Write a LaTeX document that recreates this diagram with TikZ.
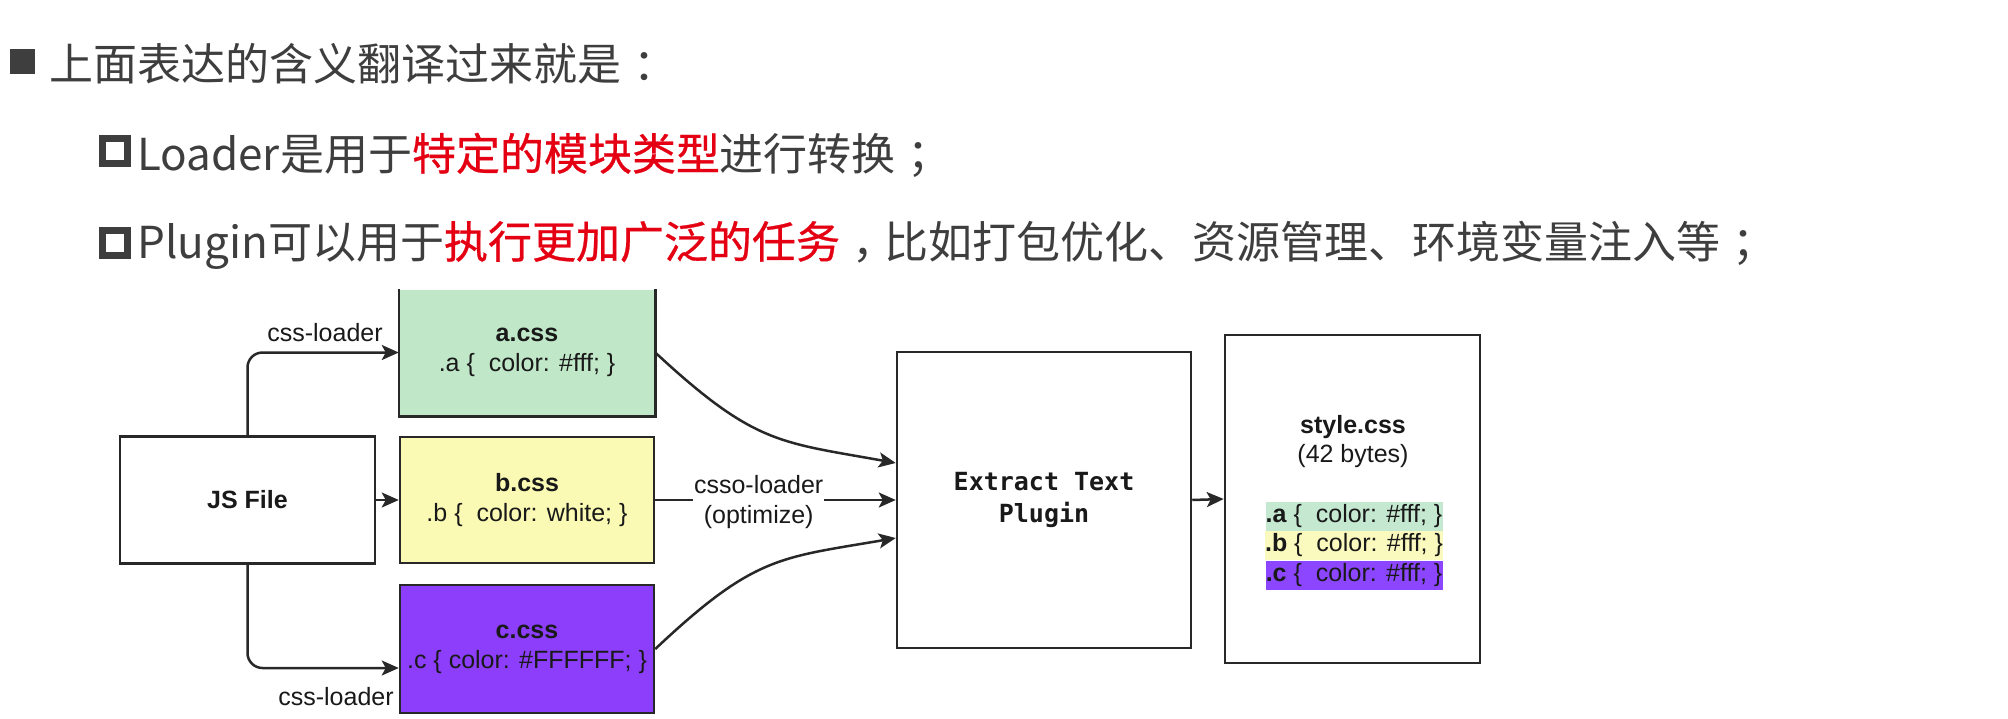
\documentclass[tikz,border=0pt]{standalone}
\usepackage{fontspec}
\setmainfont{Liberation Sans}
\newfontfamily\cjk{Noto Sans CJK SC}
\newfontfamily\cjkred[FakeBold=0.6]{Noto Sans CJK SC}
\newfontfamily\monof{DejaVu Sans Mono}
\usetikzlibrary{arrows.meta}
\definecolor{titlegray}{RGB}{62,62,62}
\definecolor{hired}{RGB}{228,0,18}
\definecolor{boxc}{RGB}{40,40,40}
\definecolor{txt}{RGB}{25,25,25}
\definecolor{cgreen}{RGB}{192,232,200}
\definecolor{cyellow}{RGB}{250,250,180}
\definecolor{cpurple}{RGB}{140,62,250}
\definecolor{sgreen}{RGB}{196,232,208}
\definecolor{syellow}{RGB}{250,250,190}
\definecolor{spurple}{RGB}{140,70,255}
\tikzset{
  title/.style={anchor=west, inner sep=0pt, text=titlegray, font=\cjk\fontsize{44}{50}\selectfont},
  fullsq/.style={fill=titlegray, minimum size=25pt, inner sep=0pt},
  hollowsq/.style={draw=titlegray, line width=6.5pt, minimum size=25pt, inner sep=0pt},
  box/.style={draw=boxc, line width=2.5pt, inner sep=0pt, align=center, text=txt,
    font=\fontsize{25}{30}\selectfont},
  lbl/.style={inner sep=1pt, align=center, text=txt, font=\fontsize{25}{30}\selectfont},
  strip/.style={inner sep=0pt, minimum width=177pt, minimum height=29pt, text=txt,
    font=\fontsize{25}{29}\selectfont},
  arr/.style={draw=boxc, line width=2.5pt, -{Stealth[length=17pt,width=15pt,inset=4pt]}},
}
\newcommand{\hl}[1]{{\cjkred\color{hired}#1}}
\newcommand{\cpunct}[1]{\kern12pt#1\kern-12pt}
\begin{document}
\begin{tikzpicture}[x=1pt,y=-1pt]
\useasboundingbox[fill=white] (0,0) rectangle (2008,718);
% title lines
\node[fullsq] (sq1) at (22,61) {};
\node[title] (t1) at (49,64) {上面表达的含义翻译过来就是\cpunct{：}};
\node[hollowsq] (sq2) at (115,151) {};
\node[title] (t2) at (137,155) {Loader是用于\hl{特定的模块类型}进行转换\cpunct{；}};
\node[hollowsq] (sq3) at (115,243) {};
\node[title] (t3) at (137,245) {Plugin可以用于\hl{执行更加广泛的任务}\cpunct{，}比如打包优化、资源管理、环境变量注入等\cpunct{；}};
% boxes
\node[box, draw=none, fill=cgreen, minimum width=254pt, minimum height=125pt] (a) at (527,352.5)
  {\textbf{a.css}\\.a \{\ \ color: \#fff; \}};
\draw[draw=boxc, line width=2.5pt] (a.north west) -- (a.south west) -- (a.south east) -- (a.north east);
\node[box, minimum width=255pt, minimum height=127pt] (js) at (247.5,500) {\textbf{JS File}};
\node[box, fill=cyellow, minimum width=254pt, minimum height=126pt] (b) at (527,500)
  {\textbf{b.css}\\.b \{\ \ color: white; \}};
\node[box, fill=cpurple, minimum width=254pt, minimum height=128pt] (c) at (527,649)
  {\textbf{c.css}\\.c \{ color: \#FFFFFF; \}};
\node[box, minimum width=294pt, minimum height=296pt, font=\monof\bfseries\fontsize{25}{32}\selectfont] (ext) at (1044,500)
  {Extract Text\\Plugin};
\node[box, minimum width=255pt, minimum height=328pt] (sty) at (1352.5,499) {};
\node[lbl, font=\bfseries\fontsize{25}{30}\selectfont] (stn) at (1353,427) {style.css};
\node[lbl] (stb) at (1353,456) {(42 bytes)};
\node[strip, fill=sgreen] (sa) at (1354,516) {\textbf{.a} \{\ \ color: \#fff; \}};
\node[strip, fill=syellow] (sb) at (1354,545) {\textbf{.b} \{\ \ color: \#fff; \}};
\node[strip, fill=spurple] (sc) at (1354,575) {\textbf{.c} \{\ \ color: \#fff; \}};
% connectors
\draw[arr, rounded corners=15pt] (js.north) |- (a.west);
\draw[arr, rounded corners=15pt] (js.south) |- ([yshift=-19pt]c.west);
\draw[arr] (js.east) -- (b.west);
\node[lbl] (l1) at (325,333) {css-loader};
\node[lbl] (l2) at (336,697) {css-loader};
\draw[arr] (b.east) -- node[lbl, fill=white, pos=0.43, yshift=-2pt] (l3) {csso-loader\\(optimize)} (ext.west);
\draw[arr] (a.east) .. controls (755,445) and (780,442) .. ([yshift=37pt]ext.west);
\draw[arr] (c.east) .. controls (755,555) and (780,558) .. ([yshift=-38pt]ext.west);
\draw[arr] (ext.east) -- (sty.west);
\end{tikzpicture}
\end{document}
